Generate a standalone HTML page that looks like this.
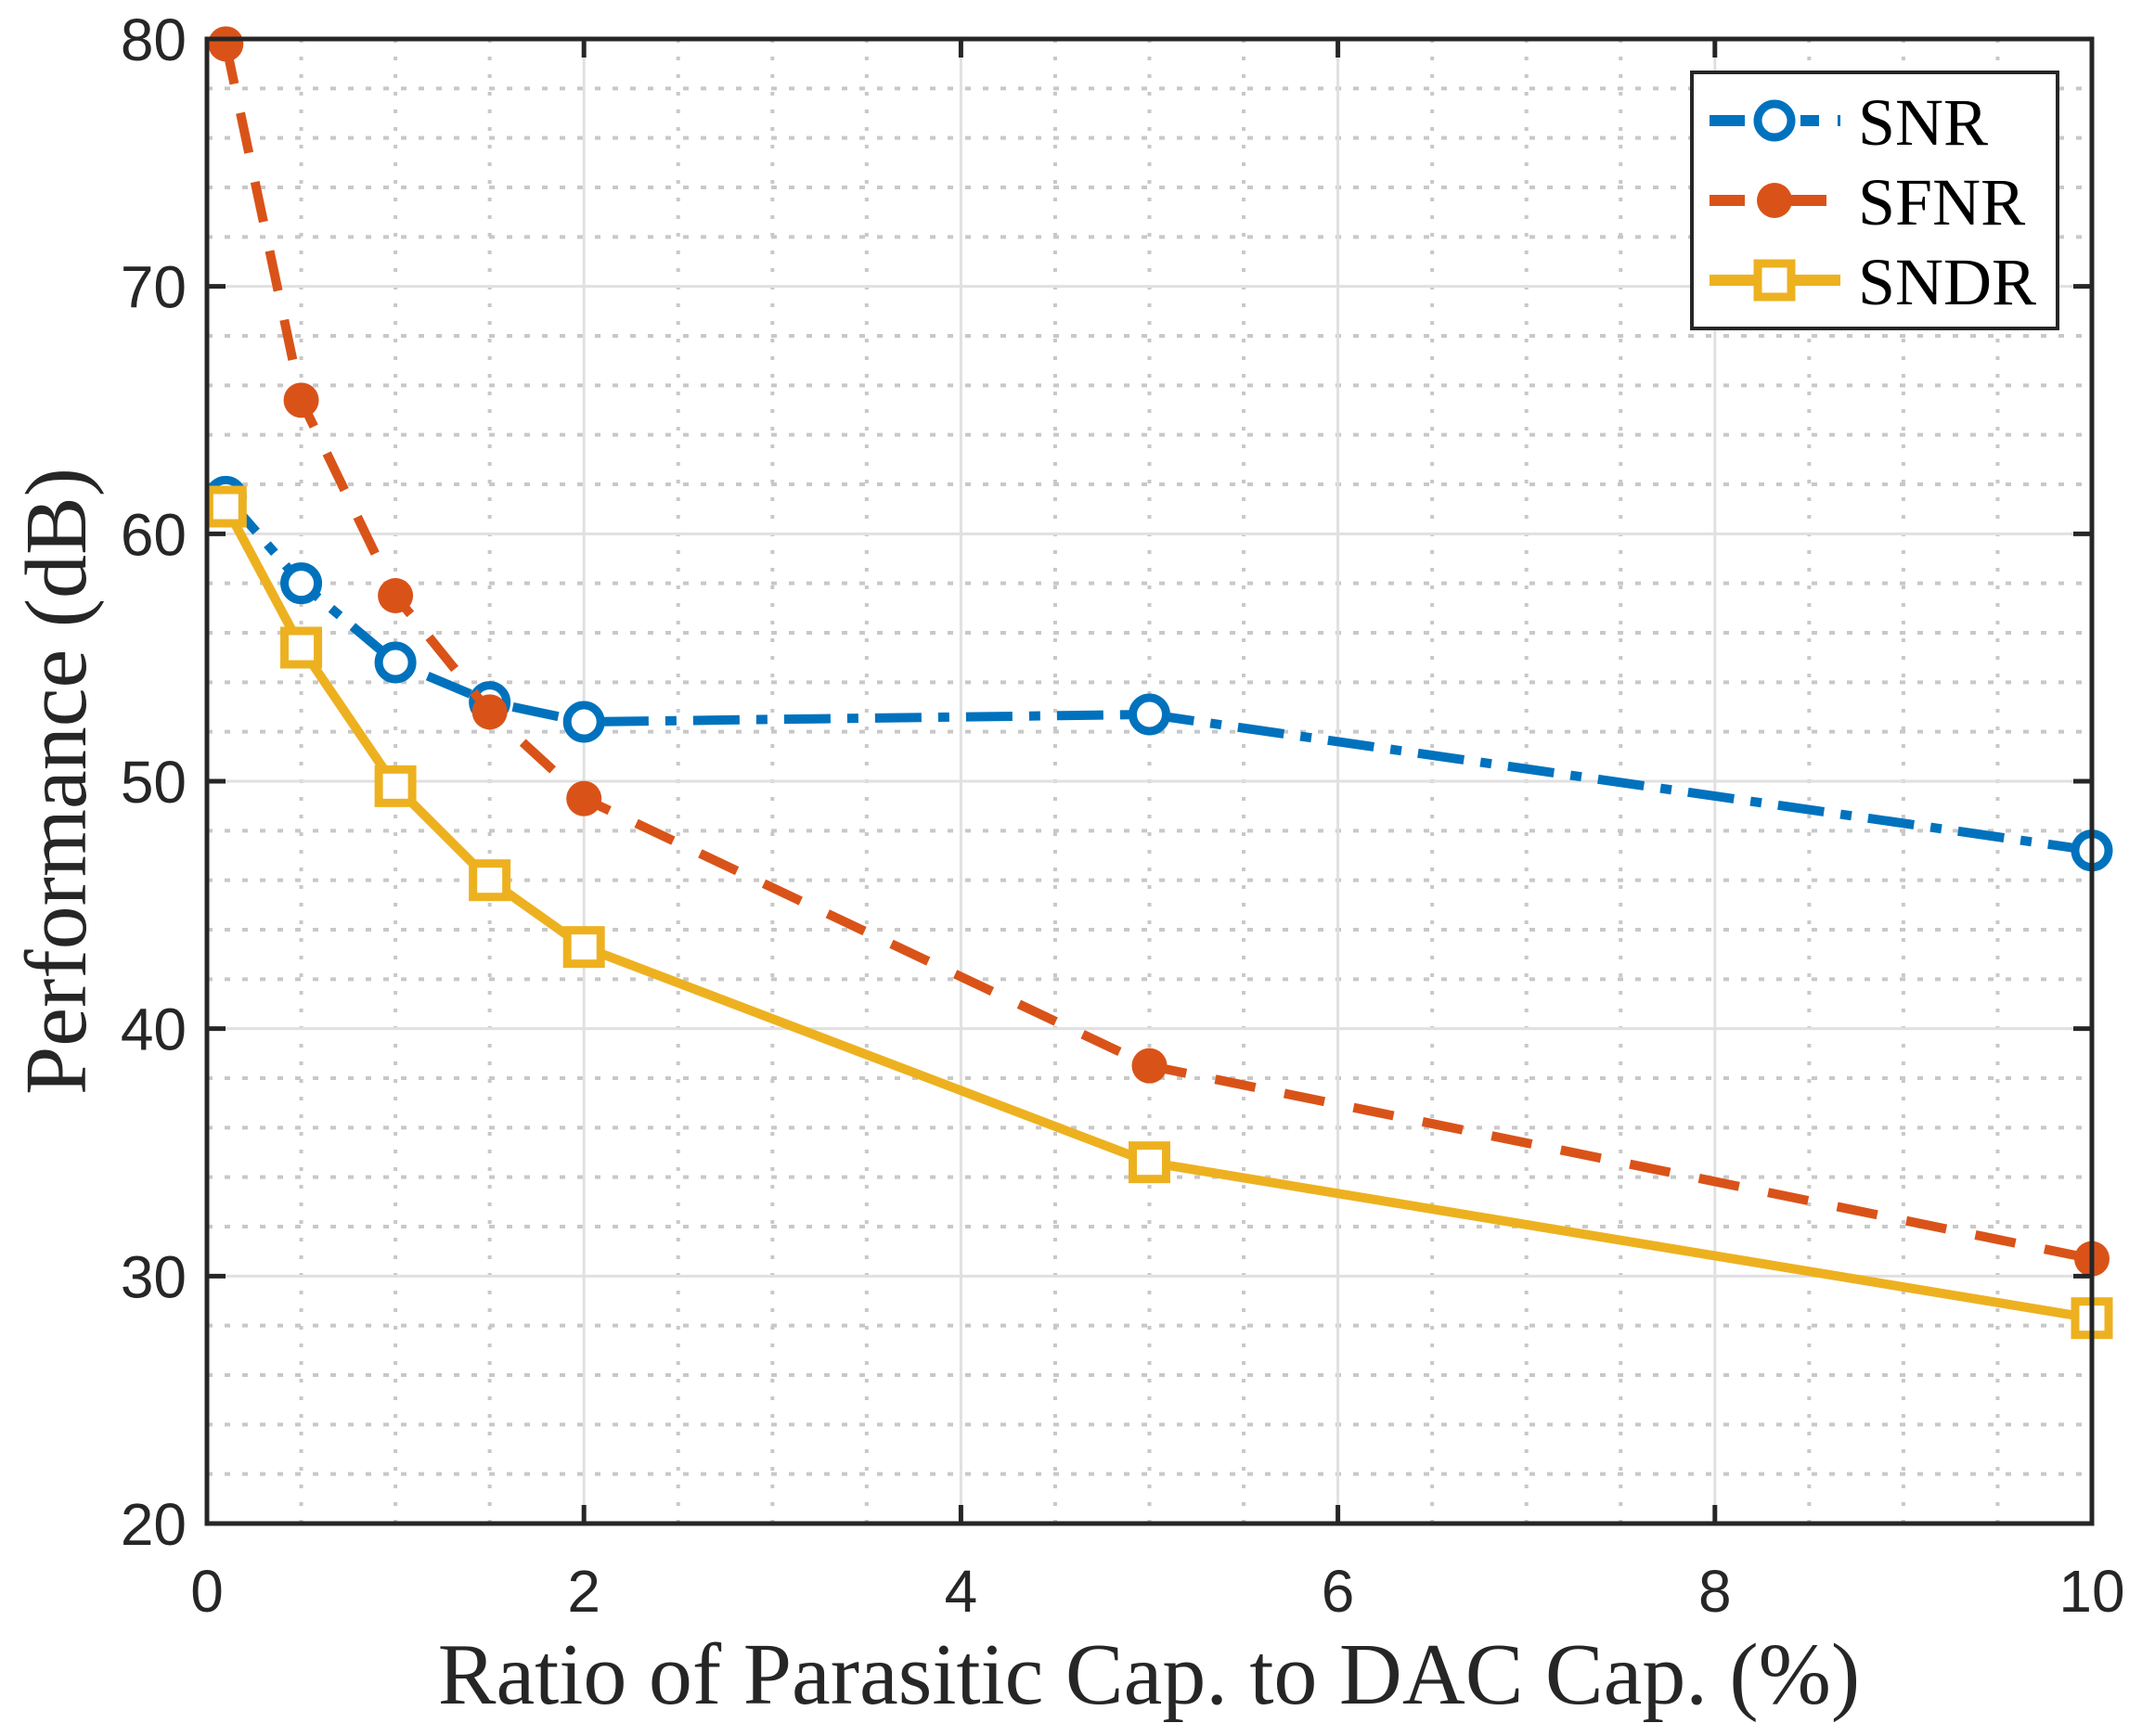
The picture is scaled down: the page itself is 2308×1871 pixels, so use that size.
<!DOCTYPE html>
<html><head><meta charset="utf-8"><style>
html,body{margin:0;padding:0;background:#fff;}
svg{display:block;}
</style></head><body>
<svg id="chart" width="2308" height="1871" viewBox="0 0 2308 1871" xmlns="http://www.w3.org/2000/svg">
<g id="grid"></g>
<g id="series"></g>
<g id="axes"></g>
<text x="1238" y="1836" text-anchor="middle" font-family="Liberation Serif, serif" font-size="94" fill="#262626">Ratio of Parasitic Cap. to DAC Cap. (%)</text>
<text transform="translate(92,842) rotate(-90)" text-anchor="middle" font-family="Liberation Serif, serif" font-size="94" fill="#262626">Performance (dB)</text>
<g id="legend">
<rect x="1823" y="78" width="394" height="276" fill="#fff" stroke="#262626" stroke-width="4"/>
</g>
</svg>
<script>
const xValues = [0.1, 0.5, 1, 1.5, 2, 5, 10];
const snrValues = [61.5, 58.0, 54.8, 53.2, 52.4, 52.7, 47.2];
const sfnrValues = [79.8, 65.4, 57.5, 52.8, 49.3, 38.5, 30.7];
const sndrValues = [61.1, 55.4, 49.8, 46.0, 43.3, 34.6, 28.3];
const xTicks = [0, 2, 4, 6, 8, 10];
const yTicks = [20, 30, 40, 50, 60, 70, 80];
const seriesNames = ["SNR", "SFNR", "SNDR"];

const NS = "http://www.w3.org/2000/svg";
const L = 223, R = 2254, T = 42, B = 1642;
const xMin = 0, xMax = 10, yMin = 20, yMax = 80;
function sx(v){ return L + (v - xMin) / (xMax - xMin) * (R - L); }
function sy(v){ return B - (v - yMin) / (yMax - yMin) * (B - T); }
function mk(tag, attrs, parent){
  const e = document.createElementNS(NS, tag);
  for (const k in attrs) e.setAttribute(k, attrs[k]);
  parent.appendChild(e);
  return e;
}
const grid = document.getElementById('grid');
const series = document.getElementById('series');
const axes = document.getElementById('axes');

for (let v = xMin; v <= xMax + 1e-9; v += 0.5) {
  if (Math.abs(v - Math.round(v/2)*2) < 1e-9) continue;
  const l = mk('line', {x1: sx(v), x2: sx(v), y1: T, y2: B, stroke: '#c8c8c8', 'stroke-width': 4, 'stroke-dasharray': '4 15'}, grid);
  
  
}
for (let v = yMin; v <= yMax + 1e-9; v += 2) {
  if (v % 10 === 0) continue;
  const l = mk('line', {x1: L, x2: R, y1: sy(v), y2: sy(v), stroke: '#c8c8c8', 'stroke-width': 4, 'stroke-dasharray': '6 13'}, grid);
  
  
}
xTicks.forEach(v => {
  const l = mk('line', {x1: sx(v), x2: sx(v), y1: T, y2: B, stroke: '#e0e0e0', 'stroke-width': 3}, grid);
  
  
});
yTicks.forEach(v => {
  const l = mk('line', {x1: L, x2: R, y1: sy(v), y2: sy(v), stroke: '#e0e0e0', 'stroke-width': 3}, grid);
  
  
});

function pts(vals){ return xValues.map((x,i)=> sx(x)+','+sy(vals[i])).join(' '); }
const styles = [
  {vals: snrValues, color: '#0072BD', dash: '50 18 12 18', marker: 'circle-open'},
  {vals: sfnrValues, color: '#D95319', dash: '44 32', marker: 'circle-filled'},
  {vals: sndrValues, color: '#EDB120', dash: '', marker: 'square'}
];
function drawMarker(type, x, y, color, parent){
  let m;
  if (type === 'circle-open') m = mk('circle', {cx: x, cy: y, r: 18, fill: '#fff', stroke: color, 'stroke-width': 9}, parent);
  else if (type === 'circle-filled') m = mk('circle', {cx: x, cy: y, r: 19, fill: color}, parent);
  else m = mk('rect', {x: x-18, y: y-18, width: 36, height: 36, fill: '#fff', stroke: color, 'stroke-width': 9}, parent);
  return m;
}
styles.forEach((s, si) => {
  const g = mk('g', {}, series);
  
  
  const pl = mk('polyline', {points: pts(s.vals), fill: 'none', stroke: s.color, 'stroke-width': 10, 'stroke-linejoin': 'round', 'stroke-dasharray': s.dash}, g);
  
  
  xValues.forEach((x, i) => {
    const m = drawMarker(s.marker, sx(x), sy(s.vals[i]), s.color, g);
    
    
  });
});

const box = mk('rect', {x: L, y: T, width: R-L, height: B-T, fill: 'none', stroke: '#262626', 'stroke-width': 5}, axes);


xTicks.forEach(v => {
  const t1 = mk('line', {x1: sx(v), x2: sx(v), y1: B, y2: B-20, stroke: '#262626', 'stroke-width': 5}, axes);
  
  
  const t2 = mk('line', {x1: sx(v), x2: sx(v), y1: T, y2: T+20, stroke: '#262626', 'stroke-width': 5}, axes);
  
  
  const tx = mk('text', {x: sx(v), y: 1737, 'text-anchor': 'middle', 'font-family': 'Liberation Sans, sans-serif', 'font-size': 64, fill: '#262626'}, axes);
  tx.textContent = v;
  
  
});
yTicks.forEach(v => {
  const t1 = mk('line', {x1: L, x2: L+20, y1: sy(v), y2: sy(v), stroke: '#262626', 'stroke-width': 5}, axes);
  
  
  const t2 = mk('line', {x1: R, x2: R-20, y1: sy(v), y2: sy(v), stroke: '#262626', 'stroke-width': 5}, axes);
  
  
  const tx = mk('text', {x: 201, y: sy(v)+23, 'text-anchor': 'end', 'font-family': 'Liberation Sans, sans-serif', 'font-size': 64, fill: '#262626'}, axes);
  tx.textContent = v;
  
  
});

const legend = document.getElementById('legend');
const legY = [130, 216, 302];
styles.forEach((s, si) => {
  const g = mk('g', {}, legend);
  
  
  const ln = mk('line', {x1: 1842, x2: 1983, y1: legY[si], y2: legY[si], stroke: s.color, 'stroke-width': 12, 'stroke-dasharray': si===0 ? '38 12 20 28 20 20' : (si===1 ? '38 50' : '')}, g);
  
  
  const m = drawMarker(s.marker, 1912, legY[si], s.color, g);
  
  
  const t = mk('text', {x: 2002, y: legY[si]+26, 'font-family': 'Liberation Serif, serif', 'font-size': 72, fill: '#000'}, g);
  t.textContent = seriesNames[si];
  
  
});
</script>
</body></html>
